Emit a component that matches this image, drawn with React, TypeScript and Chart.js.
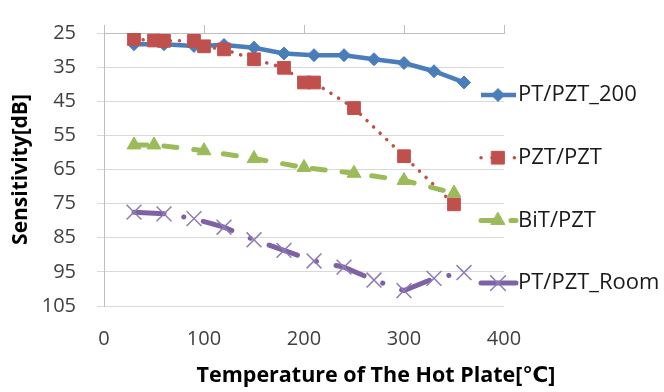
import React, { useEffect, useRef } from 'react';
import { Chart, registerables } from 'chart.js';
import { drawPoint } from 'chart.js/helpers';

Chart.register(...registerables);

// ---- data ----
const SERIES_NAMES = ['PT/PZT_200', 'PZT/PZT', 'BiT/PZT', 'PT/PZT_Room'];

const TEMPS_PT200 = [30, 60, 90, 120, 150, 180, 210, 240, 270, 300, 330, 360];
const PT_PZT_200 = [28.3, 28.3, 28.8, 28.5, 29.3, 31.0, 31.5, 31.5, 32.7, 33.8, 36.2, 39.5];

const TEMPS_PZT = [30, 50, 60, 90, 100, 120, 150, 180, 200, 210, 250, 300, 350];
const PZT_PZT = [26.8, 27.2, 27.3, 27.3, 28.9, 29.8, 32.7, 35.2, 39.5, 39.5, 47.0, 61.1, 75.2];

const TEMPS_BIT = [30, 50, 100, 150, 200, 250, 300, 350];
const BIT_PZT = [57.8, 57.8, 59.5, 61.8, 64.4, 66.1, 68.2, 71.9];

const TEMPS_ROOM = [30, 60, 90, 120, 150, 180, 210, 240, 270, 300, 330, 360];
const PT_PZT_ROOM = [77.5, 78.0, 79.4, 81.9, 85.6, 88.7, 91.8, 93.6, 97.4, 100.5, 96.9, 95.2];

const X_TICKS = [0, 100, 200, 300, 400];
const Y_TICKS = [25, 35, 45, 55, 65, 75, 85, 95, 105];

const X_TITLE = 'Temperature of The Hot Plate[℃]';
const Y_TITLE = 'Sensitivity[dB]';

const FONT = "'Open Sans', 'DejaVu Sans', sans-serif";

const toPoints = (xs: number[], ys: number[]) => xs.map((x, i) => ({ x, y: ys[i] }));

const sideLegend = {
  id: 'sideLegend',
  afterDraw(chart: any) {
    const ctx = chart.ctx as CanvasRenderingContext2D;
    const area = chart.chartArea;
    const lineStart = area.right - 23;
    const lineLen = 35;
    const markerX = lineStart + 17;
    const textX = lineStart + 37;
    const firstY = 95;
    const step = 62.7;
    chart.data.datasets.forEach((ds: any, i: number) => {
      const y = firstY + i * step;
      ctx.save();
      ctx.strokeStyle = ds.borderColor;
      ctx.lineWidth = ds.borderWidth;
      ctx.lineCap = ds.borderCapStyle || 'butt';
      ctx.setLineDash(ds.legendDash || []);
      ctx.beginPath();
      ctx.moveTo(lineStart, y);
      ctx.lineTo(lineStart + lineLen, y);
      ctx.stroke();
      ctx.setLineDash([]);
      ctx.fillStyle = ds.pointBackgroundColor;
      ctx.strokeStyle = ds.pointBorderColor;
      ctx.lineWidth = ds.pointBorderWidth;
      drawPoint(ctx, {
        pointStyle: ds.pointStyle,
        rotation: 0,
        radius: ds.pointRadius,
        borderWidth: ds.pointBorderWidth,
      } as any, markerX, y);
      ctx.fillStyle = '#1a1a1a';
      ctx.font = `22px ${FONT}`;
      ctx.textAlign = 'left';
      ctx.textBaseline = 'middle';
      ctx.fillText(ds.label, textX, y);
      ctx.restore();
    });
  },
};

const xTitlePlugin = {
  id: 'xTitle',
  afterDraw(chart: any) {
    const ctx = chart.ctx as CanvasRenderingContext2D;
    ctx.save();
    ctx.fillStyle = '#000';
    ctx.font = `bold 21.5px ${FONT}`;
    ctx.textAlign = 'center';
    ctx.textBaseline = 'middle';
    ctx.fillText(X_TITLE, 376, 376);
    ctx.restore();
  },
};

export default function App() {
  const canvasRef = useRef<HTMLCanvasElement | null>(null);

  useEffect(() => {
    const canvas = canvasRef.current;
    if (!canvas) return;
    Chart.defaults.font.family = FONT;

    const chart = new Chart(canvas, {
      type: 'line',
      data: {
        datasets: [
          {
            label: SERIES_NAMES[0],
            data: toPoints(TEMPS_PT200, PT_PZT_200),
            borderColor: '#4A7EBB',
            backgroundColor: '#4A7EBB',
            borderWidth: 4.5,
            pointStyle: 'rectRot',
            pointRadius: 6.5,
            pointBorderWidth: 1,
            pointBackgroundColor: '#4A7EBB',
            pointBorderColor: '#4A7EBB',
            order: 4,
          },
          {
            label: SERIES_NAMES[1],
            data: toPoints(TEMPS_PZT, PZT_PZT),
            borderColor: '#C0504D',
            backgroundColor: '#C0504D',
            borderWidth: 3.5,
            borderDash: [0.1, 9],
            legendDash: [0.1, 11],
            borderCapStyle: 'round',
            pointStyle: 'rect',
            pointRadius: 9,
            pointBorderWidth: 1,
            pointBackgroundColor: '#C0504D',
            pointBorderColor: '#C0504D',
            order: 3,
          },
          {
            label: SERIES_NAMES[2],
            data: toPoints(TEMPS_BIT, BIT_PZT),
            borderColor: '#9BBB59',
            backgroundColor: '#9BBB59',
            borderWidth: 5,
            borderDash: [13, 17],
            legendDash: [13, 17],
            borderCapStyle: 'round',
            pointStyle: 'triangle',
            pointRadius: 8,
            pointBorderWidth: 1,
            pointBackgroundColor: '#9BBB59',
            pointBorderColor: '#9BBB59',
            order: 2,
          },
          {
            label: SERIES_NAMES[3],
            data: toPoints(TEMPS_ROOM, PT_PZT_ROOM),
            borderColor: '#7F62A3',
            backgroundColor: '#7F62A3',
            borderWidth: 5,
            borderDash: [30, 20, 0.1, 20],
            borderCapStyle: 'round',
            pointStyle: 'crossRot',
            pointRadius: 10.5,
            pointBorderWidth: 1.5,
            pointBackgroundColor: '#8E7BB5',
            pointBorderColor: '#8E7BB5',
            order: 1,
          },
        ] as any,
      },
      options: {
        animation: false,
        responsive: false,
        events: [],
        layout: { padding: { top: 14, right: 160, bottom: 0, left: 0 } },
        elements: { line: { tension: 0 } },
        plugins: {
          legend: { display: false },
          tooltip: { enabled: false },
        },
        scales: {
          x: {
            type: 'linear',
            position: 'bottom',
            min: 0,
            max: 400,
            afterBuildTicks: (s: any) => { s.ticks = X_TICKS.map((v) => ({ value: v })); },
            afterFit: (s: any) => { s.height = 86; },
            grid: { display: false, drawTicks: false },
            border: { display: false },
            ticks: { padding: 21, font: { size: 20 }, color: '#404040' },
          },
          x2: {
            type: 'linear',
            position: 'top',
            min: 0,
            max: 400,
            afterBuildTicks: (s: any) => { s.ticks = X_TICKS.map((v) => ({ value: v })); },
            afterFit: (s: any) => { s.height = 8; },
            grid: { drawOnChartArea: false, drawTicks: true, tickLength: 8, color: '#BFBFBF' },
            border: { color: '#BFBFBF' },
            ticks: { display: false },
          },
          y: {
            type: 'linear',
            reverse: true,
            min: 25,
            max: 105,
            afterBuildTicks: (s: any) => { s.ticks = Y_TICKS.map((v) => ({ value: v })); },
            afterFit: (s: any) => { s.width = 104; },
            grid: { color: '#D9D9D9', tickLength: 7 },
            border: { color: '#BFBFBF' },
            ticks: { padding: 21, font: { size: 20 }, color: '#404040' },
            title: {
              display: true,
              text: Y_TITLE,
              color: '#000',
              font: { size: 21, weight: 'bold' },
              padding: { top: 8, bottom: 0 },
            },
          },
        },
      } as any,
      plugins: [sideLegend, xTitlePlugin],
    });

    return () => chart.destroy();
  }, []);

  return (
    <div style={{ position: 'absolute', left: 0, top: 0, width: 664, height: 392, background: '#fff' }}>
      <canvas ref={canvasRef} width={664} height={392} />
    </div>
  );
}
